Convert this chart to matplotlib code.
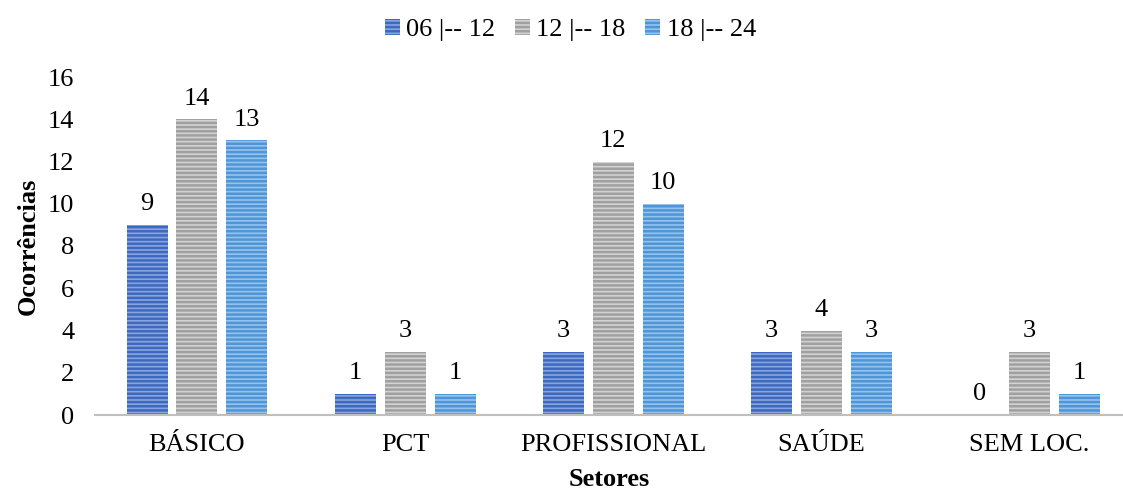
import numpy as np
import matplotlib.pyplot as plt

plt.rcParams['font.family'] = ['Liberation Serif', 'DejaVu Serif']
plt.rcParams['hatch.linewidth'] = 1.8

setores = ['BÁSICO', 'PCT', 'PROFISSIONAL', 'SAÚDE', 'SEM LOC.']
faixas = ['06 |-- 12', '12 |-- 18', '18 |-- 24']
manha = [9, 1, 3, 3, 0]
tarde = [14, 3, 12, 4, 3]
noite = [13, 1, 10, 3, 1]

# (fundo, listras) for each series
cores = [('#86a4de', '#3f69be'), ('#d2d2d2', '#a0a0a0'), ('#94c3ee', '#5096d6')]

fig = plt.figure(figsize=(11.23, 4.95), dpi=100)
ax = fig.add_axes([95 / 1123, 1 - 415 / 495, 1028 / 1123, 338 / 495])

x = np.arange(len(setores))
largura = 0.197
passo = 0.24
fs = 19
for k, (vals, nome, (fundo, listra)) in enumerate(zip([manha, tarde, noite], faixas, cores)):
    barras = ax.bar(x + (k - 1) * passo, vals, largura, facecolor=fundo,
                    edgecolor=listra, linewidth=0, hatch='----', label=nome)
    for b, v in zip(barras, vals):
        ax.text(b.get_x() + b.get_width() / 2, v + 0.45, str(v),
                ha='center', va='bottom', fontsize=fs)

ax.set_xlim(-0.49, 4.45)
ax.set_ylim(0, 16)
ax.set_yticks(range(0, 17, 2))
ax.set_xticks(x)
ax.set_xticklabels(setores)
ax.tick_params(axis='both', length=0, labelsize=fs)
ax.tick_params(axis='y', pad=15)
ax.tick_params(axis='x', pad=14)
for s in ['top', 'right', 'left']:
    ax.spines[s].set_visible(False)
ax.spines['bottom'].set_color('#bfbfbf')
ax.spines['bottom'].set_linewidth(1.5)

ax.set_ylabel('Ocorrências', fontsize=fs, fontweight='bold', labelpad=6)
ax.set_xlabel('Setores', fontsize=fs, fontweight='bold', labelpad=8)

fig.legend(loc='upper center', bbox_to_anchor=(0.508, 1.01), ncol=3, frameon=False,
           fontsize=fs, handlelength=0.55, handleheight=0.55, handletextpad=0.25,
           columnspacing=0.75)

fig.savefig('out.png', dpi=100)
